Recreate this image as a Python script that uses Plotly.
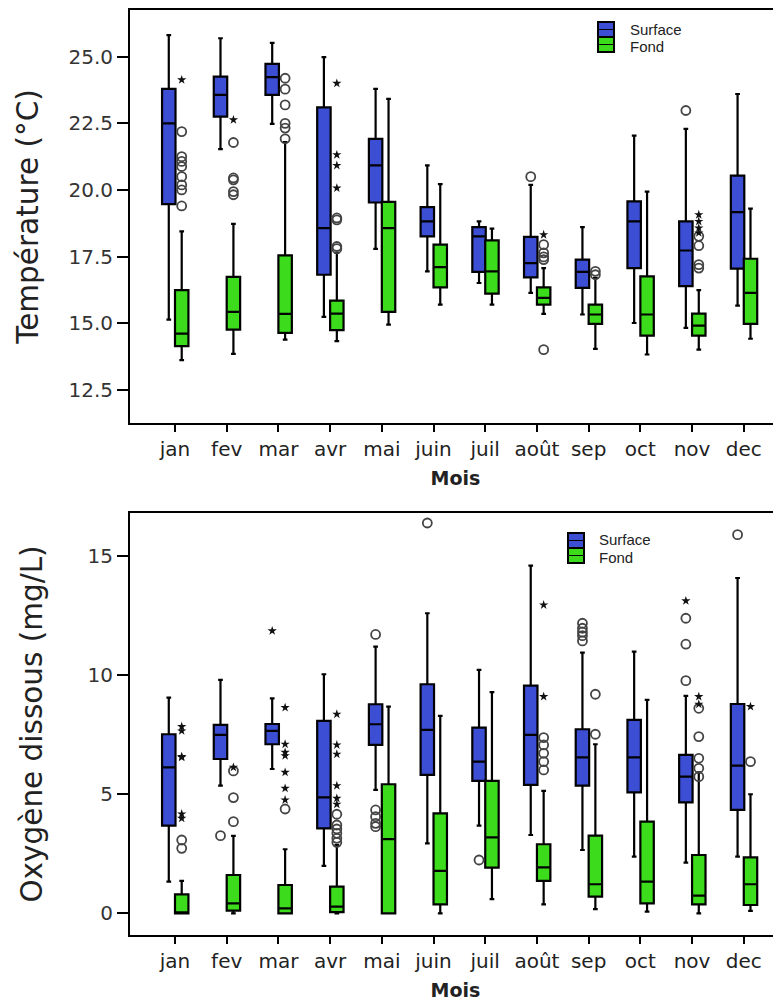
import plotly.graph_objects as go

months = ["jan", "fev", "mar", "avr", "mai", "juin", "juil", "août", "sep", "oct", "nov", "dec"]

# ---------- Température (°C) ----------
temp_surf_lo  = [15.14, 21.53, 22.48, 15.24, 17.79, 16.95, 16.51, 16.14, 15.33, 15.01, 14.83, 15.66]
temp_surf_q1  = [19.47, 22.75, 23.57, 16.82, 19.53, 18.26, 16.93, 16.72, 16.33, 17.07, 16.39, 17.05]
temp_surf_med = [22.50, 23.57, 24.23, 18.57, 20.92, 18.82, 18.26, 17.26, 16.93, 18.82, 17.73, 19.17]
temp_surf_q3  = [23.79, 24.25, 24.73, 23.10, 21.92, 19.36, 18.61, 18.24, 17.39, 19.57, 18.82, 20.54]
temp_surf_hi  = [25.81, 25.69, 25.52, 24.98, 23.79, 20.92, 18.82, 20.19, 18.61, 22.04, 22.29, 23.60]

temp_fond_lo  = [13.62, 13.85, 14.39, 14.33, 14.95, 15.70, 15.70, 15.35, 14.04, 13.83, 14.01, 14.42]
temp_fond_q1  = [14.14, 14.76, 14.64, 14.74, 15.43, 16.35, 16.11, 15.70, 14.98, 14.54, 14.54, 14.98]
temp_fond_med = [14.61, 15.43, 15.35, 15.36, 18.57, 17.11, 16.95, 15.95, 15.33, 15.33, 14.91, 16.14]
temp_fond_q3  = [16.24, 16.74, 17.55, 15.85, 19.55, 17.95, 18.11, 16.35, 15.70, 16.76, 15.36, 17.42]
temp_fond_hi  = [18.45, 18.73, 21.80, 17.64, 23.42, 20.22, 18.55, 17.07, 16.70, 19.94, 16.24, 19.30]

# outliers: month index / value
temp_surf_circ_m = [7, 10]
temp_surf_circ_v = [20.50, 22.98]
temp_fond_circ_m = [0, 0, 0, 0, 0, 0, 0, 0,
                    1, 1, 1, 1, 1,
                    2, 2, 2, 2, 2, 2,
                    3, 3, 3, 3,
                    7, 7, 7, 7, 7,
                    8, 8,
                    10, 10, 10, 10]
temp_fond_circ_v = [22.19, 21.25, 21.07, 20.88, 20.50, 20.19, 20.00, 19.40,
                    21.78, 20.45, 20.38, 19.94, 19.82,
                    24.19, 23.78, 23.19, 22.50, 22.32, 21.92,
                    18.95, 18.88, 17.88, 17.80,
                    17.95, 17.64, 17.49, 17.39, 14.01,
                    16.95, 16.82,
                    18.26, 17.91, 17.20, 17.07]
temp_fond_star_m = [0, 1, 3, 3, 3, 3, 7, 10, 10, 10, 10]
temp_fond_star_v = [24.13, 22.63, 24.00, 21.32, 20.92, 20.07, 18.32, 19.07, 18.82, 18.57, 18.39]

# ---------- Oxygène dissous (mg/L) ----------
oxy_surf_lo  = [1.33, 5.36, 6.06, 1.99, 5.18, 2.94, 3.68, 3.29, 2.66, 2.38, 2.13, 2.38]
oxy_surf_q1  = [3.68, 6.48, 7.10, 3.57, 7.07, 5.81, 5.56, 5.39, 5.36, 5.08, 4.66, 4.34]
oxy_surf_med = [6.13, 7.49, 7.66, 4.87, 7.94, 7.70, 6.37, 7.49, 6.55, 6.55, 5.74, 6.20]
oxy_surf_q3  = [7.52, 7.91, 7.95, 8.08, 8.78, 9.62, 7.80, 9.56, 7.73, 8.12, 6.65, 8.79]
oxy_surf_hi  = [9.06, 9.80, 9.03, 10.04, 11.20, 12.60, 10.22, 14.60, 10.95, 10.99, 9.13, 14.08]

oxy_fond_lo  = [0.00, 0.00, 0.00, 0.00, 0.00, 0.00, 0.60, 0.38, 0.18, 0.07, 0.00, 0.10]
oxy_fond_q1  = [0.00, 0.11, 0.00, 0.05, 0.00, 0.38, 1.92, 1.36, 0.70, 0.42, 0.38, 0.35]
oxy_fond_med = [0.04, 0.42, 0.21, 0.28, 3.12, 1.78, 3.19, 1.93, 1.22, 1.33, 0.74, 1.22]
oxy_fond_q3  = [0.80, 1.61, 1.19, 1.12, 5.42, 4.20, 5.56, 2.90, 3.26, 3.85, 2.45, 2.35]
oxy_fond_hi  = [1.36, 3.25, 2.69, 2.87, 8.68, 8.29, 9.29, 5.14, 7.10, 8.96, 5.92, 5.00]

oxy_surf_circ_m = [1, 4, 4, 4, 4, 4, 5, 6, 8, 8, 8, 8, 8, 10, 10, 10, 11]
oxy_surf_circ_v = [3.26, 11.71, 4.34, 4.06, 3.78, 3.64, 16.39, 2.24,
                   12.18, 11.97, 11.81, 11.66, 11.44, 12.39, 11.30, 9.77, 15.90]
oxy_surf_star_m = [2, 10]
oxy_surf_star_v = [11.86, 13.12]
oxy_fond_circ_m = [0, 0, 1, 1, 1, 2, 3, 3, 3, 3, 3, 3,
                   7, 7, 7, 7, 7, 8, 8, 10, 10, 10, 10, 10, 11]
oxy_fond_circ_v = [3.08, 2.73, 5.98, 4.86, 3.85, 4.38, 4.16, 3.71, 3.54, 3.36, 3.15, 2.98,
                   7.38, 7.07, 6.72, 6.37, 6.02, 9.20, 7.52, 8.61, 7.42, 6.51, 6.09, 5.74, 6.37]
oxy_fond_star_m = [0, 0, 0, 0, 0, 0, 1, 2, 2, 2, 2, 2, 2, 2,
                   3, 3, 3, 3, 3, 3, 7, 7, 10, 10, 11]
oxy_fond_star_v = [7.84, 7.66, 6.58, 6.55, 4.17, 3.99, 6.13, 8.64, 7.10, 6.76, 6.62, 5.92, 5.25, 4.76,
                   8.36, 7.07, 6.68, 5.36, 4.83, 4.58, 12.95, 9.10, 9.10, 8.78, 8.68]

series_names = ["Surface", "Fond"]
colors = {"Surface": "#3b4ed4", "Fond": "#3cdc1c"}
offsets = {"Surface": -0.12, "Fond": 0.13}
FONT = "DejaVu Sans"
LEG_FONT = "Liberation Sans"

fig = go.Figure()


def add_panel(xa, ya, stats, circ, star):
    for name in series_names:
        lo, q1, med, q3, hi = stats[name]
        xs = [i + offsets[name] for i in range(len(months))]
        fig.add_trace(go.Box(
            x=xs, q1=q1, median=med, q3=q3, lowerfence=lo, upperfence=hi,
            name=name, width=0.26, whiskerwidth=0.35,
            fillcolor=colors[name], line=dict(color="black", width=2.2),
            boxpoints=False, showlegend=False, xaxis=xa, yaxis=ya, hoverinfo="skip"))
        if name in circ:
            m, v = circ[name]
            fig.add_trace(go.Scatter(
                x=[k + offsets[name] for k in m], y=v, mode="markers",
                marker=dict(symbol="circle-open", size=9, color="#444444", line=dict(width=1.8)),
                showlegend=False, xaxis=xa, yaxis=ya, hoverinfo="skip"))
        if name in star:
            m, v = star[name]
            fig.add_trace(go.Scatter(
                x=[k + offsets[name] for k in m], y=v, mode="markers",
                marker=dict(symbol="star", size=7, color="#111111"),
                showlegend=False, xaxis=xa, yaxis=ya, hoverinfo="skip"))


add_panel("x", "y",
          {"Surface": (temp_surf_lo, temp_surf_q1, temp_surf_med, temp_surf_q3, temp_surf_hi),
           "Fond": (temp_fond_lo, temp_fond_q1, temp_fond_med, temp_fond_q3, temp_fond_hi)},
          {"Surface": (temp_surf_circ_m, temp_surf_circ_v), "Fond": (temp_fond_circ_m, temp_fond_circ_v)},
          {"Fond": (temp_fond_star_m, temp_fond_star_v)})
add_panel("x2", "y2",
          {"Surface": (oxy_surf_lo, oxy_surf_q1, oxy_surf_med, oxy_surf_q3, oxy_surf_hi),
           "Fond": (oxy_fond_lo, oxy_fond_q1, oxy_fond_med, oxy_fond_q3, oxy_fond_hi)},
          {"Surface": (oxy_surf_circ_m, oxy_surf_circ_v), "Fond": (oxy_fond_circ_m, oxy_fond_circ_v)},
          {"Surface": (oxy_surf_star_m, oxy_surf_star_v), "Fond": (oxy_fond_star_m, oxy_fond_star_v)})

# the page body adds an 8 px offset; the figure is sized so the window is filled
OFF = 8
W, H = 781 - OFF, 1003 - OFF
ML, MR, MT, MB = 130 - OFF, 0, 10 - OFF, (1003 - OFF) - (935 - OFF)
PW, PH = W - ML - MR, H - MT - MB


def px_x(p):
    # window pixel -> paper x
    return (p - OFF - ML) / PW


def px_y(p):
    # window pixel -> paper y
    return (H - MB - (p - OFF)) / PH


xaxis_common = dict(
    tickmode="array", tickvals=list(range(len(months))), ticktext=months,
    range=[-0.87, 11.72], showline=True, mirror=True, linecolor="black", linewidth=2,
    ticks="outside", ticklen=7, tickwidth=2, tickcolor="black",
    showgrid=False, zeroline=False,
    tickfont=dict(family=FONT, size=20, color="#222222"),
    title=dict(text="<b>Mois</b>", font=dict(family=FONT, size=19, color="#222222"), standoff=12),
)
yaxis_common = dict(
    showline=True, mirror=True, linecolor="black", linewidth=2,
    ticks="outside", ticklen=11, tickwidth=2, tickcolor="black",
    showgrid=False, zeroline=False,
    tickfont=dict(family=FONT, size=20, color="#333333"),
)

fig.update_layout(
    width=W, height=H,
    margin=dict(l=ML, r=MR, t=MT, b=MB, autoexpand=False),
    paper_bgcolor="white", plot_bgcolor="white",
    boxmode="overlay", showlegend=False,
    font=dict(family=FONT, color="#222222"),
    xaxis=dict(domain=[0, 1], anchor="y", **xaxis_common),
    yaxis=dict(domain=[px_y(423), 1.0], anchor="x", range=[11.26, 26.75],
               tickvals=[12.5, 15, 17.5, 20, 22.5, 25], tickformat=".1f",
               title=dict(text="Température (°C)", font=dict(family=FONT, size=29.5, color="#222222"), standoff=21),
               **yaxis_common),
    xaxis2=dict(domain=[0, 1], anchor="y2", **xaxis_common),
    yaxis2=dict(domain=[0.0, px_y(513)], anchor="x2", range=[-0.91, 16.81],
                tickvals=[0, 5, 10, 15],
                title=dict(text="Oxygène dissous (mg/L)", font=dict(family=FONT, size=29.5, color="#222222"), standoff=36),
                **yaxis_common),
)

# legends (swatch + label), one per panel
shapes = []
annotations = []
for (sx, sy, tx) in [(598, 22, 629), (568, 533, 598)]:
    for k, name in enumerate(series_names):
        y0 = sy + k * 15
        shapes.append(dict(type="rect", xref="paper", yref="paper",
                           x0=px_x(sx), x1=px_x(sx + 16), y0=px_y(y0 + 15), y1=px_y(y0),
                           fillcolor=colors[name], line=dict(color="black", width=2)))
        shapes.append(dict(type="line", xref="paper", yref="paper",
                           x0=px_x(sx), x1=px_x(sx + 16), y0=px_y(y0 + 7.5), y1=px_y(y0 + 7.5),
                           line=dict(color="black", width=1)))
        annotations.append(dict(xref="paper", yref="paper", x=px_x(tx),
                                y=px_y(sy + 6.5 + k * 17),
                                text=name, showarrow=False, xanchor="left", yanchor="middle",
                                height=16, borderpad=0, valign="middle",
                                font=dict(family=LEG_FONT, size=15, color="#222222")))
fig.update_layout(shapes=shapes, annotations=annotations)

fig.write_html("out.html")
